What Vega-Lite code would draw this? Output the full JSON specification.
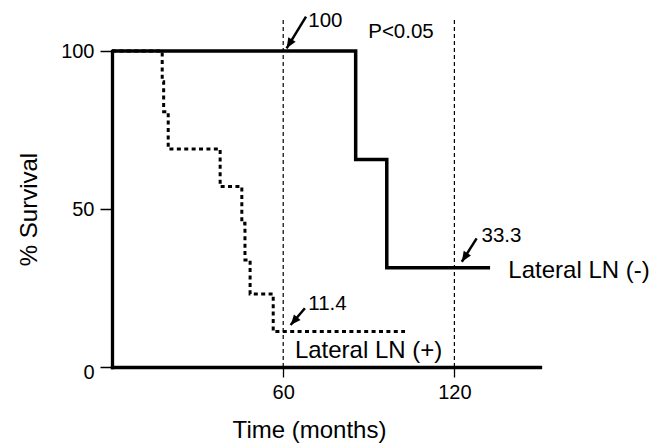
{
  "$schema": "https://vega.github.io/schema/vega-lite/v6.json",
  "width": 428,
  "height": 316,
  "autosize": "none",
  "padding": {"left": 112, "top": 51, "right": 125, "bottom": 77},
  "background": "white",
  "config": {
    "view": {"stroke": null},
    "font": "Liberation Sans",
    "axis": {"grid": false, "domainColor": "black", "tickColor": "black", "labelColor": "black", "titleColor": "black", "labelFont": "Liberation Sans", "titleFont": "Liberation Sans", "titleFontWeight": "normal"}
  },
  "datasets": {
    "neg": [
      {"t": 0, "s": 100},
      {"t": 85.4, "s": 65.7},
      {"t": 96.3, "s": 31.4},
      {"t": 132.5, "s": 31.4}
    ],
    "pos": [
      {"t": 0, "s": 100},
      {"t": 17.6, "s": 90.3},
      {"t": 18.1, "s": 80.8},
      {"t": 19.7, "s": 69.0},
      {"t": 37.9, "s": 57.1},
      {"t": 45.5, "s": 45.5},
      {"t": 46.6, "s": 33.9},
      {"t": 48.4, "s": 23.1},
      {"t": 56.5, "s": 11.2},
      {"t": 102.7, "s": 11.2}
    ],
    "refs": [
      {"t": 60, "lo": 0, "hi": 110.3},
      {"t": 120, "lo": 0, "hi": 110.3}
    ],
    "arrows": [
      {"label": "100", "x": 68.0, "y": 110.85, "x2": 61.2, "y2": 100.85},
      {"label": "11.4", "x": 67.6, "y": 18.6, "x2": 62.6, "y2": 13.3},
      {"label": "33.3", "x": 127.8, "y": 40.7, "x2": 122.6, "y2": 33.3}
    ],
    "small": [
      {"text": "100", "x": 68.8, "y": 107.7},
      {"text": "P<0.05", "x": 89.8, "y": 104.0},
      {"text": "33.3", "x": 129.5, "y": 39.7},
      {"text": "11.4", "x": 68.8, "y": 18.0}
    ],
    "big": [
      {"text": "Lateral LN (-)", "x": 138.9, "y": 28.1},
      {"text": "Lateral LN (+)", "x": 64.1, "y": 2.75}
    ]
  },
  "layer": [
    {
      "data": {"name": "refs"},
      "mark": {"type": "rule", "color": "black", "strokeWidth": 1.2, "strokeDash": [4, 3]},
      "encoding": {
        "x": {"field": "t", "type": "quantitative", "scale": {"domain": [0, 150], "nice": false, "zero": false},
          "axis": {"values": [60, 120], "title": "Time (months)", "titleFontSize": 24, "titleX": 197, "titleY": 70, "titleBaseline": "alphabetic", "titleAlign": "center", "titleAnchor": null,
            "domainWidth": 3.3, "domainCap": "square", "tickSize": 10, "tickWidth": 1.3, "labelFontSize": 20, "labelPadding": 5}},
        "y": {"field": "lo", "type": "quantitative", "scale": {"domain": [0, 100], "nice": false},
          "axis": {"values": [0, 50, 100], "title": "% Survival", "titleFontSize": 24, "titleX": -76, "titleY": 158, "titleBaseline": "alphabetic", "titleAlign": "center", "titleAngle": 270,
            "domainWidth": 3.3, "domainCap": "square", "tickSize": 12, "tickWidth": 1.5, "labelFontSize": 20, "labelPadding": 6,
            "labelOffset": {"condition": {"test": "datum.value === 0", "value": 5}, "value": 0}}},
        "y2": {"field": "hi"}
      }
    },
    {
      "data": {"name": "pos"},
      "mark": {"type": "line", "interpolate": "step-after", "color": "black", "strokeWidth": 3, "strokeDash": [4, 3.4]},
      "encoding": {
        "x": {"field": "t", "type": "quantitative"},
        "y": {"field": "s", "type": "quantitative"}
      }
    },
    {
      "data": {"name": "neg"},
      "mark": {"type": "line", "interpolate": "step-after", "color": "black", "strokeWidth": 3.5},
      "encoding": {
        "x": {"field": "t", "type": "quantitative"},
        "y": {"field": "s", "type": "quantitative"}
      }
    },
    {
      "data": {"name": "arrows"},
      "mark": {"type": "rule", "color": "black", "strokeWidth": 2.5},
      "encoding": {
        "x": {"field": "x", "type": "quantitative"},
        "y": {"field": "y", "type": "quantitative"},
        "x2": {"field": "x2"},
        "y2": {"field": "y2"}
      }
    },
    {
      "data": {"name": "arrows"},
      "transform": [{"filter": "datum.label === '100'"}],
      "mark": {"type": "point", "shape": "M0,0L-0.42,1L0.42,1Z", "filled": true, "color": "black", "opacity": 1, "size": 420, "angle": 211.4},
      "encoding": {
        "x": {"field": "x2", "type": "quantitative"},
        "y": {"field": "y2", "type": "quantitative"}
      }
    },
    {
      "data": {"name": "arrows"},
      "transform": [{"filter": "datum.label === '11.4'"}],
      "mark": {"type": "point", "shape": "M0,0L-0.42,1L0.42,1Z", "filled": true, "color": "black", "opacity": 1, "size": 420, "angle": 220.5},
      "encoding": {
        "x": {"field": "x2", "type": "quantitative"},
        "y": {"field": "y2", "type": "quantitative"}
      }
    },
    {
      "data": {"name": "arrows"},
      "transform": [{"filter": "datum.label === '33.3'"}],
      "mark": {"type": "point", "shape": "M0,0L-0.42,1L0.42,1Z", "filled": true, "color": "black", "opacity": 1, "size": 420, "angle": 212.7},
      "encoding": {
        "x": {"field": "x2", "type": "quantitative"},
        "y": {"field": "y2", "type": "quantitative"}
      }
    },
    {
      "data": {"name": "small"},
      "mark": {"type": "text", "align": "left", "baseline": "alphabetic", "fontSize": 20.5, "color": "black", "font": "Liberation Sans"},
      "encoding": {
        "x": {"field": "x", "type": "quantitative"},
        "y": {"field": "y", "type": "quantitative"},
        "text": {"field": "text"}
      }
    },
    {
      "data": {"name": "big"},
      "mark": {"type": "text", "align": "left", "baseline": "alphabetic", "fontSize": 24, "color": "black", "font": "Liberation Sans"},
      "encoding": {
        "x": {"field": "x", "type": "quantitative"},
        "y": {"field": "y", "type": "quantitative"},
        "text": {"field": "text"}
      }
    }
  ]
}
